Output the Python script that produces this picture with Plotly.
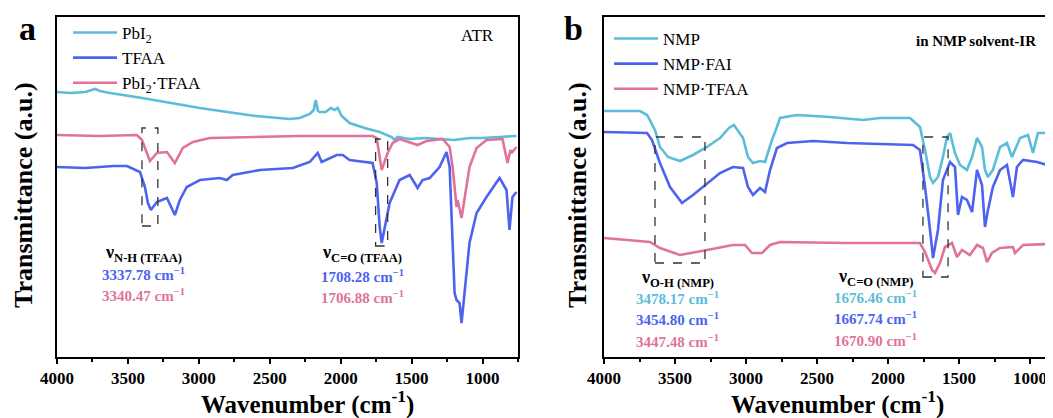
import plotly.graph_objects as go

# ---------------- data (wavenumber cm-1, transmittance a.u.) ----------------
# Panel a (ATR)
a_pbi2_wn = [4000, 3900, 3800, 3732, 3697, 3627, 3400, 3200, 2993, 2800, 2600, 2359, 2289, 2218, 2190,
             2176, 2160, 2148, 2106, 2070, 2042, 2021, 1993, 1937, 1831, 1725, 1641, 1620, 1600,
             1514, 1400, 1303, 1200, 1092, 1000, 880, 761]
a_pbi2_t = [265, 264, 265, 268, 266, 264, 259, 254, 249, 245, 241, 238, 239, 243, 247,
            257, 246, 245, 245, 249, 247, 249, 241, 234, 229, 225, 220, 217, 220,
            218, 219, 218, 217, 219, 219, 220, 221]

a_tfaa_wn = [4000, 3800, 3600, 3507, 3415, 3380, 3359, 3338, 3296, 3225, 3169, 3134, 3085, 2993,
             2852, 2803, 2761, 2570, 2338, 2218, 2162, 2134, 2028, 1986, 1937, 1775, 1746, 1725,
             1711, 1690, 1655, 1585, 1514, 1479, 1458, 1423, 1373, 1303, 1254, 1232, 1211, 1197,
             1183, 1162, 1148, 1127, 1092, 1042, 972, 880, 859, 831, 810, 796, 789, 761]
a_tfaa_t = [190, 189, 191, 191, 185, 170, 154, 147, 155, 159, 142, 157, 170, 177,
            179, 177, 182, 187, 189, 195, 204, 195, 202, 202, 197, 194, 174, 130,
            114, 130, 154, 177, 182, 174, 169, 177, 179, 190, 205, 190, 124, 64,
            57, 54, 34, 64, 114, 144, 160, 179, 174, 167, 127, 147, 160, 165]

a_mix_wn = [4000, 3700, 3437, 3401, 3345, 3296, 3225, 3169, 3113, 3042, 2923, 2690, 2300, 2000,
            1775, 1746, 1711, 1669, 1634, 1585, 1458, 1394, 1282, 1232, 1211, 1183, 1176, 1148,
            1127, 1092, 1042, 972, 859, 824, 803, 796, 761]
a_mix_t = [222, 221, 222, 217, 196, 204, 205, 194, 209, 215, 219, 220, 221, 221,
           221, 219, 187, 204, 214, 218, 212, 216, 218, 210, 190, 150, 157, 139,
           157, 190, 209, 217, 218, 194, 207, 204, 210]

# Panel b (in NMP solvent-IR)
b_nmp_wn = [4000, 3746, 3697, 3641, 3606, 3549, 3465, 3373, 3275, 3183, 3120, 3085, 3021, 2986,
            2951, 2901, 2866, 2817, 2782, 2761, 2641, 2408, 2176, 2056, 1845, 1789, 1775, 1739,
            1704, 1683, 1648, 1613, 1585, 1563, 1528, 1493, 1444, 1408, 1373, 1338, 1317, 1296,
            1261, 1211, 1162, 1127, 1070, 1014, 979, 944, 880, 845]
b_nmp_t = [246, 246, 242, 227, 210, 200, 196, 202, 210, 219, 229, 232, 219, 200,
           194, 196, 195, 217, 230, 239, 242, 240, 237, 239, 239, 232, 230, 207,
           180, 174, 180, 200, 220, 224, 204, 192, 187, 200, 219, 210, 187, 180,
           187, 210, 214, 200, 219, 222, 204, 224, 224, 219]

b_fai_wn = [4000, 3746, 3697, 3662, 3606, 3535, 3451, 3373, 3289, 3183, 3092, 3021, 2986, 2951,
            2901, 2866, 2831, 2782, 2711, 2528, 2289, 2056, 1824, 1775, 1739, 1704, 1683, 1648,
            1613, 1563, 1528, 1507, 1479, 1444, 1408, 1373, 1338, 1317, 1296, 1261, 1211, 1162,
            1120, 1092, 1049, 951, 880, 845]
b_fai_t = [225, 224, 224, 217, 194, 170, 154, 162, 172, 184, 190, 189, 170, 162,
           169, 165, 187, 209, 214, 216, 214, 213, 212, 207, 170, 127, 99, 127,
           177, 195, 190, 142, 160, 157, 145, 187, 172, 130, 147, 170, 187, 192,
           160, 190, 197, 195, 192, 187]

b_tfaa_wn = [4000, 3676, 3606, 3465, 3275, 3092, 3007, 2958, 2887, 2831, 2761, 2300, 1775, 1739,
             1690, 1669, 1634, 1599, 1549, 1514, 1479, 1423, 1373, 1331, 1303, 1268, 1211, 1120,
             1106, 1049, 880, 845]
b_tfaa_t = [119, 115, 109, 102, 107, 112, 112, 104, 104, 112, 115, 114, 114, 105,
            87, 84, 94, 110, 114, 100, 107, 102, 112, 109, 95, 104, 109, 110,
            104, 112, 113, 111]

a_names = ["PbI<sub>2</sub>", "TFAA", "PbI<sub>2</sub>·TFAA"]
b_names = ["NMP", "NMP·FAI", "NMP·TFAA"]
tick_vals = [4000, 3500, 3000, 2500, 2000, 1500, 1000]
tick_text = ["4000", "3500", "3000", "2500", "2000", "1500", "1000"]

# ---------------- style ----------------
CYAN = "#5BBDD9"
BLUE = "#4D63F0"
PINK = "#E0739B"
FONT = "Liberation Serif, Times New Roman, serif"
# the page body adds an 8px margin, so the figure is drawn 8px smaller and
# screen positions are converted to figure positions
OFF = 8
W, H = 1053 - OFF, 418 - OFF
TOP, BOT = 17, 357  # screen px of plot top / bottom


def px(x):
    return (x - OFF) / W


def py(y):
    return (BOT - y) / (BOT - TOP)


fig = go.Figure()
LW = 2.6
for wn, t, name, col in [(a_pbi2_wn, a_pbi2_t, a_names[0], CYAN),
                         (a_tfaa_wn, a_tfaa_t, a_names[1], BLUE),
                         (a_mix_wn, a_mix_t, a_names[2], PINK)]:
    fig.add_trace(go.Scatter(x=wn, y=t, mode="lines", name=name, line=dict(color=col, width=LW),
                             xaxis="x", yaxis="y", legend="legend"))
for wn, t, name, col in [(b_nmp_wn, b_nmp_t, b_names[0], CYAN),
                         (b_fai_wn, b_fai_t, b_names[1], BLUE),
                         (b_tfaa_wn, b_tfaa_t, b_names[2], PINK)]:
    fig.add_trace(go.Scatter(x=wn, y=t, mode="lines", name=name, line=dict(color=col, width=LW),
                             xaxis="x2", yaxis="y2", legend="legend2"))

xcommon = dict(showline=True, linecolor="black", linewidth=2, ticks="outside", ticklen=5,
               tickwidth=2, tickcolor="black", showgrid=False, zeroline=False, automargin=False,
               tickvals=tick_vals, ticktext=tick_text,
               tickfont=dict(family=FONT, size=17, color="black", weight="bold"),
               minor=dict(ticks="outside", ticklen=3, tickwidth=2, tickcolor="black", dtick=250,
                          tick0=0, showgrid=False))
ycommon = dict(showline=True, linecolor="black", linewidth=2, showticklabels=False, ticks="",
               showgrid=False, zeroline=False, range=[0, 340], domain=[0, 1], automargin=False)

fig.update_layout(
    width=W, height=H,
    margin=dict(l=0, r=0, t=TOP - OFF, b=H - (BOT - OFF), pad=0, autoexpand=False),
    paper_bgcolor="white", plot_bgcolor="white",
    xaxis=dict(domain=[px(57), px(518)], range=[4000, 750], mirror=True, anchor="y", **xcommon),
    yaxis=dict(anchor="x", mirror=True, **ycommon),
    xaxis2=dict(domain=[px(604), 1.0], range=[4000, 838], mirror=True, anchor="y2", **xcommon),
    yaxis2=dict(anchor="x2", mirror=False, **ycommon),
    legend=dict(x=px(68), y=py(15), xanchor="left", yanchor="top", bgcolor="rgba(0,0,0,0)",
                font=dict(family=FONT, size=17, color="black"), itemwidth=44, tracegroupgap=0),
    legend2=dict(x=px(609), y=py(21), xanchor="left", yanchor="top", bgcolor="rgba(0,0,0,0)",
                 font=dict(family=FONT, size=17, color="black"), itemwidth=44, tracegroupgap=0),
    showlegend=True,
)

# dashed boxes
box_style = dict(color="#333333", width=1.3, dash="dash")
fig.add_shape(type="rect", xref="x", yref="y", x0=3401, x1=3289, y0=131, y1=229, line=box_style)
fig.add_shape(type="rect", xref="x", yref="y", x0=1754, x1=1669, y0=111, y1=218, line=box_style)
fig.add_shape(type="rect", xref="x2", yref="y2", x0=3641, x1=3289, y0=94, y1=220, line=box_style)
fig.add_shape(type="rect", xref="x2", yref="y2", x0=1754, x1=1577, y0=80, y1=220, line=box_style)


def ann(text, x, y, color="black", size=15, bold=True, xanchor="center", angle=0):
    fig.add_annotation(text=text, x=px(x), y=py(y), xref="paper", yref="paper",
                       xanchor=xanchor, yanchor="middle", showarrow=False, textangle=angle,
                       font=dict(family=FONT, size=size, color=color,
                                 weight="bold" if bold else "normal"))


SUP = " cm<sup>−1</sup>"
# panel a
ann("ν<sub>N-H (TFAA)</sub>", 143, 253, size=18)
ann("3337.78" + SUP, 143, 274, BLUE)
ann("3340.47" + SUP, 143, 295, PINK)
ann("ν<sub>C=O (TFAA)</sub>", 362, 253, size=18)
ann("1708.28" + SUP, 362, 276, BLUE)
ann("1706.88" + SUP, 362, 297, PINK)
ann("ATR", 477, 35, size=17, bold=False)
# panel b
ann("ν<sub>O-H (NMP)</sub>", 677, 278, size=18)
ann("3478.17" + SUP, 677, 298, CYAN)
ann("3454.80" + SUP, 677, 319, BLUE)
ann("3447.48" + SUP, 677, 341, PINK)
ann("ν<sub>C=O (NMP)</sub>", 875, 277, size=18)
ann("1676.46" + SUP, 875, 297, CYAN)
ann("1667.74" + SUP, 875, 318, BLUE)
ann("1670.90" + SUP, 875, 340, PINK)
ann("in NMP solvent-IR", 914, 41, size=15, xanchor="left")

# panel letters and axis titles
ann("a", 27, 28, size=34)
ann("b", 573, 28, size=34)
ann("Transmittance (a.u.)", 23, 195, size=26, angle=-90)
ann("Transmittance (a.u.)", 577, 195, size=26, angle=-90)
ann("Wavenumber (cm<sup>-1</sup>)", 307, 402, size=25)
ann("Wavenumber (cm<sup>-1</sup>)", 837, 402, size=25)

fig.write_html("out.html")
